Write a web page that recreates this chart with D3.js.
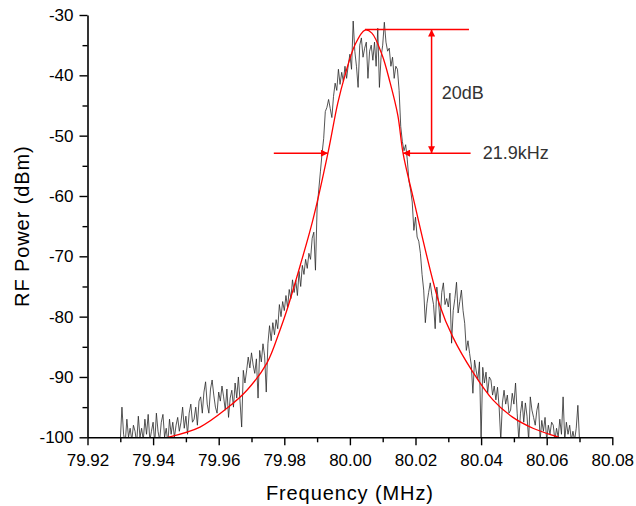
<!DOCTYPE html>
<html><head><meta charset="utf-8">
<script src="https://cdn.jsdelivr.net/npm/d3@7"></script>
<style>
body{margin:0;background:#fff}
text{font-family:"Liberation Sans",Arial,sans-serif}
</style>
</head><body>
<svg id="chart" width="636" height="506"></svg>
<script>
// ---- data ----
const xTickValues = [79.92, 79.94, 79.96, 79.98, 80.00, 80.02, 80.04, 80.06, 80.08];
const xMinorTicks = [79.93, 79.95, 79.97, 79.99, 80.01, 80.03, 80.05, 80.07];
const yTickValues = [-30, -40, -50, -60, -70, -80, -90, -100];
const yMinorTicks = [-35, -45, -55, -65, -75, -85, -95];

const freqStart = 79.930;   // MHz
const freqStep = 0.0005;    // MHz
const powerDbm = [
 -100.5, -95.0, -99.5, -101, -97.0, -100, -98.5, -100.5, -98, -99,
 -101, -96.5, -100, -98.5, -100.5, -97, -99.5, -96.2, -100.5, -99,
 -97.5, -101, -96, -99, -100.5, -97.5, -96.2, -100, -98.5, -101,
 -97, -99.5, -97.5, -100, -98, -96.7, -99, -97.5, -95, -98.5,
 -96.5, -99.5, -96, -94.5, -97.5, -97, -95, -98, -94, -93.3,
 -96, -92.5, -90.8, -94.5, -96, -92, -90.5, -93, -95, -96,
 -92.5, -94, -91.5, -93.3, -95.5, -92, -96.7, -93.5, -92.2, -95,
 -91, -93.5, -90, -94, -98.3, -88.9, -91, -89, -86.7, -88.5,
 -86, -88, -89.4, -87, -93.5, -85.6, -87.5, -84.5, -86.5, -92.5,
 -84.5, -81.5, -84, -81, -83, -80.5, -82, -78, -80, -77.5,
 -79, -76.5, -78.5, -75.5, -77, -73.9, -76, -74, -76.5, -72.5,
 -75, -71.5, -73, -70.5, -72, -69.5, -70.5, -67, -66, -72.3,
 -62, -59, -56, -53, -50.5, -46, -45.3, -44, -45.5, -47,
 -43.5, -41.3, -42.5, -39, -41.5, -39.5, -41, -38.5, -40.5, -38.3,
 -36.5, -39, -31, -36, -38.5, -42, -35, -33.8, -37, -35.5,
 -34.5, -40.5, -36, -35, -37.5, -34.5, -38.5, -32.2, -42, -37,
 -35, -31.2, -34.5, -36, -35.5, -38.5, -37, -40.5, -38.5, -39,
 -42.5, -48.5, -51, -52.5, -51.5, -54, -57.5, -59, -61, -65.7,
 -63.5, -66.8, -67.5, -69.5, -73, -75.6, -81, -77.8, -76, -74.4,
 -76.5, -78, -82, -75.1, -77.5, -81, -76, -74.4, -78, -77,
 -78.4, -76.1, -84.4, -79, -77, -74.3, -79.4, -77.5, -75.6, -79,
 -81.1, -85.6, -84, -86.1, -88, -92.7, -87.2, -89, -90.5, -87.5,
 -100.5, -88.4, -91, -89.2, -92.7, -90, -90.5, -93, -91.5, -93.8,
 -91.7, -95, -100.5, -94.3, -92.2, -94.5, -93, -96, -95.5, -92.7,
 -94.5, -91, -96, -100.5, -96, -94, -97.5, -94.3, -96.5, -100.5,
 -93.3, -95.5, -96.7, -98, -95.5, -94.3, -100.5, -97.2, -99, -96.7,
 -100.5, -98, -99.5, -97.5, -98, -100.5, -98.5, -100, -97, -99.5,
 -93.3, -100.5, -97.5, -99.5, -98, -100.5, -99, -100.5, -98.5, -94.7, -100.5
];

// fitted curve (red)
const fitFreq = [79.9445, 79.9543, 79.9625, 79.9686, 79.9747, 79.9787, 79.9808, 79.9848, 79.9887, 79.9933,
                 79.9963, 79.9985, 80.0015, 80.0046, 80.0067, 80.0098, 80.0122, 80.0146, 80.0162, 80.0193,
                 80.0274, 80.0314, 80.0375, 80.0436, 80.0497, 80.0558, 80.0619, 80.0637];
const fitDbm  = [-100, -98.3, -95.2, -92.2, -87.7, -82.2, -78.9, -71.6, -64.0, -52.9,
                 -44.6, -40.0, -35.0, -32.5, -33.0, -36.6, -41.1, -46.6, -52.9, -60.3,
                 -78.1, -83.4, -89.2, -93.8, -96.7, -98.5, -99.7, -100];

// annotation values
const peakFreq = 80.0046, peakLevel = -32.4, lowLevel = -52.9;
const topLineEnd = 80.0363;
const dbArrowFreq = 80.0249;
const leftArrow = [79.9768, 79.9933];
const rightArrow = [80.0368, 80.0162];
const labelDb = {text: "20dB", freq: 80.0280, level: -42.9};
const labelKhz = {text: "21.9kHz", freq: 80.0405, level: -52.9};
const xTitle = "Frequency (MHz)";
const yTitle = "RF Power (dBm)";

// ---- drawing ----
const svg = d3.select("#chart");
const L = 87.5, R = 612.3, T = 15, B = 437.3;
const x = d3.scaleLinear().domain([79.92, 80.08]).range([L, R]);
const y = d3.scaleLinear().domain([-100, -30]).range([B, T]);

svg.append("defs").append("clipPath").attr("id", "plotClip")
  .append("rect").attr("x", L).attr("y", T - 20).attr("width", R - L).attr("height", B - T + 20);

const defs = svg.select("defs");
defs.append("marker").attr("id", "arr")
  .attr("viewBox", "0 0 10 10").attr("refX", 10).attr("refY", 5)
  .attr("markerWidth", 9).attr("markerHeight", 7).attr("markerUnits", "userSpaceOnUse")
  .attr("orient", "auto-start-reverse")
  .append("path").attr("d", "M0,0 L10,5 L0,10 z").attr("fill", "#ff0000");

// trace
const trace = powerDbm.map((v, i) => [freqStart + i * freqStep, v]);
svg.append("path")
  .attr("clip-path", "url(#plotClip)")
  .attr("d", d3.line().x(d => x(d[0])).y(d => y(d[1]))(trace))
  .attr("fill", "none").attr("stroke", "#2a2a2a").attr("stroke-width", 0.8)
  .attr("stroke-linejoin", "round");

// fit
const fit = fitFreq.map((f, i) => [f, fitDbm[i]]);
svg.append("path")
  .attr("clip-path", "url(#plotClip)")
  .attr("d", d3.line().x(d => x(d[0])).y(d => y(d[1])).curve(d3.curveCatmullRom.alpha(0.5))(fit))
  .attr("fill", "none").attr("stroke", "#ff0000").attr("stroke-width", 1.3);

// axes
const fmtY = d => String(d);
const gy = svg.append("g").attr("transform", `translate(${L},0)`)
  .call(d3.axisLeft(y).tickValues(yTickValues).tickSize(8).tickSizeOuter(0).tickPadding(6).tickFormat(fmtY));
const gyMinor = svg.append("g").attr("transform", `translate(${L},0)`)
  .call(d3.axisLeft(y).tickValues(yMinorTicks).tickSize(5).tickSizeOuter(0).tickFormat(""));
gyMinor.select(".domain").remove();

const gx = svg.append("g").attr("transform", `translate(0,${B})`)
  .call(d3.axisBottom(x).tickValues(xTickValues).tickSize(8).tickSizeOuter(0).tickPadding(9).tickFormat(d3.format(".2f")));
const gxMinor = svg.append("g").attr("transform", `translate(0,${B})`)
  .call(d3.axisBottom(x).tickValues(xMinorTicks).tickSize(5).tickSizeOuter(0).tickFormat(""));
gxMinor.select(".domain").remove();

svg.selectAll(".domain").attr("stroke", "#000").attr("stroke-width", 1.6);
svg.selectAll(".tick line").attr("stroke", "#000").attr("stroke-width", 1.4);
svg.selectAll(".tick text").attr("fill", "#000").style("font-size", "17px")
  .style("font-family", '"Liberation Sans", Arial, sans-serif');

// titles
svg.append("text").attr("x", (L + R) / 2).attr("y", 500)
  .attr("text-anchor", "middle").style("font-size", "20px").style("letter-spacing", "0.9px")
  .attr("fill", "#000").text(xTitle);
svg.append("text").attr("transform", `translate(29,${(T + B) / 2}) rotate(-90)`)
  .attr("text-anchor", "middle").style("font-size", "20px").style("letter-spacing", "0.9px")
  .attr("fill", "#000").text(yTitle);

// annotations
const red = "#ff0000";
svg.append("line").attr("x1", x(peakFreq)).attr("x2", x(topLineEnd))
  .attr("y1", y(peakLevel)).attr("y2", y(peakLevel)).attr("stroke", red).attr("stroke-width", 1.5);
svg.append("line").attr("x1", x(dbArrowFreq)).attr("x2", x(dbArrowFreq))
  .attr("y1", y(peakLevel)).attr("y2", y(lowLevel)).attr("stroke", red).attr("stroke-width", 1.5)
  .attr("marker-start", "url(#arr)").attr("marker-end", "url(#arr)");
svg.append("line").attr("x1", x(leftArrow[0])).attr("x2", x(leftArrow[1]))
  .attr("y1", y(lowLevel)).attr("y2", y(lowLevel)).attr("stroke", red).attr("stroke-width", 1.5)
  .attr("marker-end", "url(#arr)");
svg.append("line").attr("x1", x(rightArrow[0])).attr("x2", x(rightArrow[1]))
  .attr("y1", y(lowLevel)).attr("y2", y(lowLevel)).attr("stroke", red).attr("stroke-width", 1.5)
  .attr("marker-end", "url(#arr)");

[labelDb, labelKhz].forEach(l => {
  svg.append("text").attr("x", x(l.freq)).attr("y", y(l.level))
    .attr("dominant-baseline", "central").style("font-size", "18px")
    .attr("fill", "#333").text(l.text);
});
</script>
</body></html>
